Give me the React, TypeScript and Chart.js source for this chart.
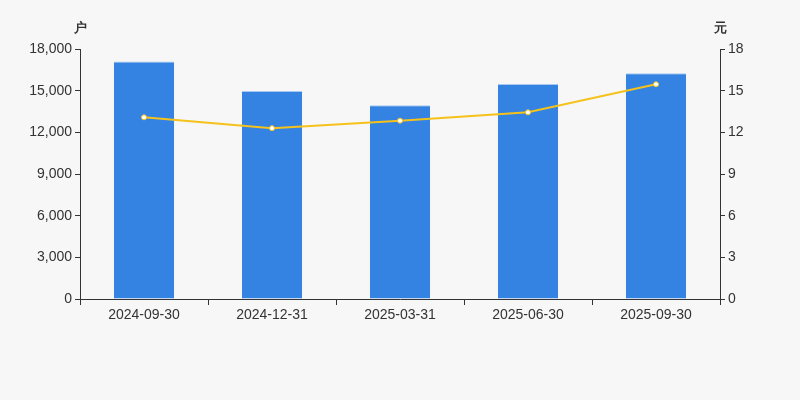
import React, { useEffect, useRef } from "react";
import { Chart, registerables } from "chart.js";

Chart.register(...registerables);

const categories = ["2024-09-30", "2024-12-31", "2025-03-31", "2025-06-30", "2025-09-30"];
const holders = [17100, 14980, 13950, 15480, 16250];
const price = [13.08, 12.3, 12.84, 13.44, 15.46];
const leftUnit = "户";
const rightUnit = "元";

const FONT = "'Liberation Sans', Arial, sans-serif";

const unitPlugin = {
  id: "units",
  afterDraw(chart: any) {
    const { ctx, chartArea } = chart;
    ctx.save();
    ctx.fillStyle = "#333";
    ctx.font = `bold 13px ${FONT}`;
    ctx.textAlign = "center";
    ctx.textBaseline = "middle";
    ctx.fillText(leftUnit, chartArea.left, chartArea.top - 21);
    ctx.fillText(rightUnit, chartArea.right, chartArea.top - 21);
    ctx.restore();
  },
};

export default function App() {
  const ref = useRef<HTMLCanvasElement>(null);
  useEffect(() => {
    document.body.style.margin = "0";
    const chart = new Chart(ref.current!, {
      type: "bar",
      data: {
        labels: categories,
        datasets: [
          {
            type: "line",
            data: price,
            yAxisID: "y1",
            borderColor: "#f5c21b",
            borderWidth: 2,
            pointRadius: 2.5,
            pointBackgroundColor: "#ffffff",
            pointBorderColor: "#f5c21b",
            pointBorderWidth: 1,
            tension: 0,
            order: 0,
          } as any,
          {
            type: "bar",
            data: holders,
            yAxisID: "y",
            backgroundColor: "#3482e2",
            borderColor: "#a9c8ef",
            borderWidth: { top: 1, left: 0, right: 0, bottom: 0 },
            borderSkipped: "start",
            barPercentage: 0.47,
            categoryPercentage: 1,
            order: 1,
          } as any,
        ],
      },
      options: {
        animation: false,
        responsive: false,
        maintainAspectRatio: false,
        layout: { padding: { top: 49, left: 0, right: 0, bottom: 0 } },
        plugins: { legend: { display: false }, tooltip: { enabled: false } },
        scales: {
          x: {
            offset: true,
            grid: { display: true, drawOnChartArea: false, offset: true, color: "#333", tickLength: 6 },
            border: { display: true, color: "#333", width: 1 },
            ticks: { color: "#333", font: { size: 14, family: FONT }, padding: 2, maxRotation: 0 },
            afterFit(s: any) { s.height = 101; },
          },
          y: {
            position: "left",
            min: 0,
            max: 18000,
            grid: { display: true, drawOnChartArea: false, color: "#333", tickLength: 5 },
            border: { display: true, color: "#333", width: 1 },
            ticks: {
              stepSize: 3000,
              color: "#333",
              font: { size: 14, family: FONT },
              padding: 3,
              callback: (v: any) => Number(v).toLocaleString("en-US"),
            },
            afterFit(s: any) { s.width = 80; },
          },
          y1: {
            position: "right",
            min: 0,
            max: 18,
            grid: { display: true, drawOnChartArea: false, color: "#333", tickLength: 5 },
            border: { display: true, color: "#333", width: 1 },
            ticks: { stepSize: 3, color: "#333", font: { size: 14, family: FONT }, padding: 3 },
            afterFit(s: any) { s.width = 80; },
          },
        },
      },
      plugins: [unitPlugin],
    });
    return () => chart.destroy();
  }, []);
  return (
    <div style={{ width: 800, height: 400, background: "#f7f7f7" }}>
      <canvas ref={ref} width={800} height={400} style={{ display: "block" }} />
    </div>
  );
}
